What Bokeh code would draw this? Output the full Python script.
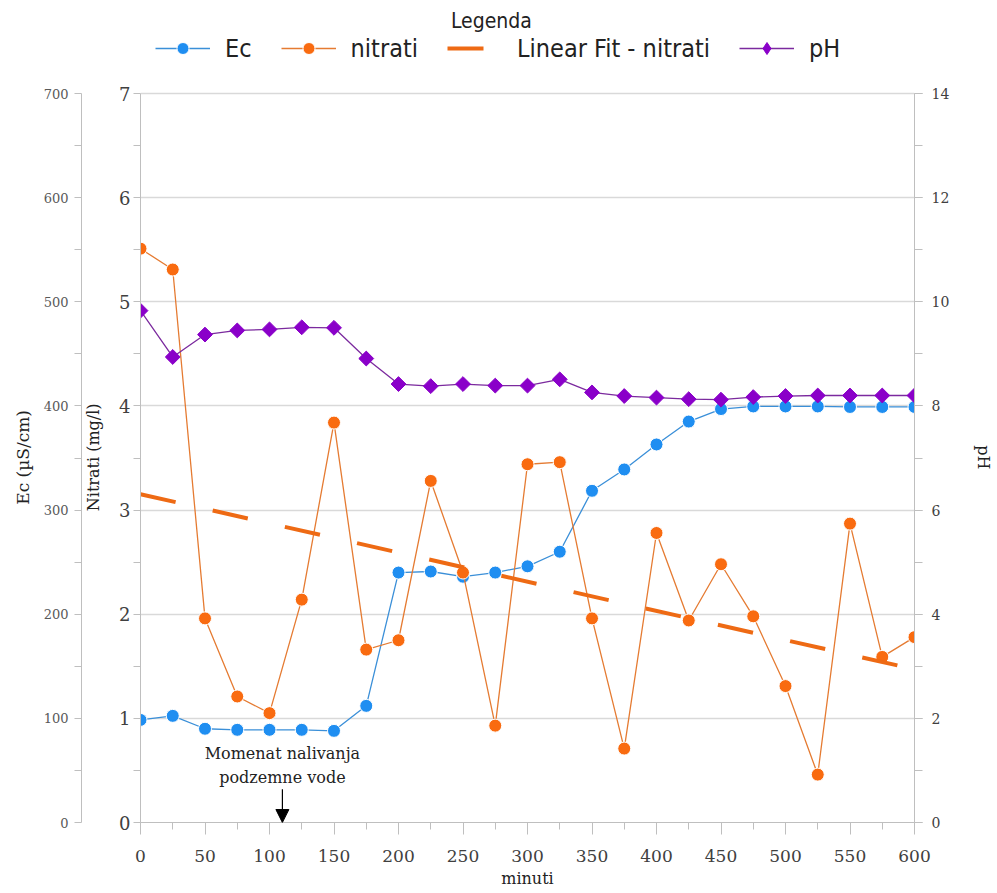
from bokeh.plotting import figure
from bokeh.models import (Range1d, LinearAxis, SingleIntervalTicker, Legend, LegendItem,
                          Arrow, NormalHead, Label)
from bokeh.embed import file_html
from bokeh.resources import INLINE
import numpy as np

minutes = [0, 25, 50, 75, 100, 125, 150, 175, 200, 225, 250, 275, 300,
           325, 350, 375, 400, 425, 450, 475, 500, 525, 550, 575, 600]
ec = [98.5, 102.4, 90, 89, 89, 89, 88, 112, 240, 241, 236, 240, 246,
      260, 318.5, 339, 363, 385, 397, 399.5, 399.5, 399.5, 399, 399, 399]
nitrati = [5.51, 5.31, 1.96, 1.21, 1.05, 2.14, 3.84, 1.66, 1.75, 3.28, 2.40, 0.93, 3.44,
           3.46, 1.96, 0.71, 2.78, 1.94, 2.48, 1.98, 1.31, 0.46, 2.87, 1.59, 1.78]
ph = [9.83, 8.94, 9.37, 9.45, 9.47, 9.51, 9.50, 8.91, 8.42, 8.38, 8.42, 8.39, 8.39,
      8.51, 8.26, 8.19, 8.16, 8.13, 8.12, 8.17, 8.19, 8.20, 8.20, 8.20, 8.20]
series_names = ["Ec", "nitrati", "Linear Fit - nitrati", "pH"]

# axis extents
NI_MAX, EC_MAX, PH_MAX = 7, 700, 14

# linear fit of nitrati
k, b = np.polyfit(minutes, nitrati, 1)
fit_x = [minutes[0], minutes[-1]]
fit_y = [k * x + b for x in fit_x]

SERIF = "DejaVu Serif"
COND = "'Liberation Sans Narrow', 'DejaVu Sans Condensed', sans-serif"
AX = "#bfbfbf"
TXT = "#404040"
EC_C = "#1F8EF1"
EC_L = "#3A8FD8"
NI_C = "#F96B10"
NI_L = "#E57B32"
FIT_C = "#EE6A14"
PH_C = "#8A00C9"
PH_L = "#7B2A9E"
NB = "\u00a0"   # padding keeps axis titles centred on the 0..max part of the axis

W, H = 996, 893
FRAME_TOP_GAP = 93      # px of legend area above the top value
FRAME_BOTTOM = 822
head = FRAME_BOTTOM / (FRAME_BOTTOM - FRAME_TOP_GAP)   # range stretch so legend fits in frame

p = figure(width=W, height=H, x_range=Range1d(0, 600), y_range=Range1d(0, NI_MAX * head),
           output_backend="svg", toolbar_location=None,
           min_border_left=140, min_border_right=W - 918, min_border_top=0,
           min_border_bottom=H - FRAME_BOTTOM)
p.extra_y_ranges = {"ec": Range1d(0, EC_MAX * head), "ph": Range1d(0, PH_MAX * head)}
p.outline_line_color = None
p.background_fill_color = "white"


def style(a, tick_size, label_size="15px"):
    a.axis_line_color = AX
    a.major_tick_line_color = AX
    a.minor_tick_line_color = AX
    a.major_tick_in = 0
    a.minor_tick_in = 0
    a.major_label_text_font = SERIF
    a.major_label_text_font_size = tick_size
    a.major_label_text_color = TXT
    a.axis_label_text_font = SERIF
    a.axis_label_text_font_size = label_size
    a.axis_label_text_font_style = "normal"
    a.axis_label_text_color = "#222222"


# x axis
xa = p.xaxis[0]
xa.ticker = SingleIntervalTicker(interval=50, num_minor_ticks=2)
xa.axis_label = "minuti"
style(xa, "17px", "16px")
xa.major_tick_out = 12
xa.minor_tick_out = 7
xa.major_label_standoff = 15
xa.axis_label_standoff = 4

# nitrati axis (inner left)
ya = p.yaxis[0]
ya.ticker = SingleIntervalTicker(interval=1, num_minor_ticks=2)
ya.bounds = (0, NI_MAX)
ya.axis_label = "Nitrati (mg/l)" + NB * 18
style(ya, "18px", "16px")
ya.major_tick_out = 0
ya.minor_tick_out = 7
ya.major_label_standoff = 3
ya.axis_label_standoff = 13

p.ygrid[0].ticker = SingleIntervalTicker(interval=1)
p.ygrid[0].bounds = (0, 600)
p.ygrid[0].grid_line_color = "#d9d9d9"
p.ygrid[0].grid_line_width = 1.5
p.xgrid.visible = False

# Ec axis (outer left)
ec_axis = LinearAxis(y_range_name="ec", ticker=SingleIntervalTicker(interval=100, num_minor_ticks=2),
                     axis_label="Ec (µS/cm)" + NB * 17, bounds=(0, EC_MAX))
style(ec_axis, "13px", "17px")
ec_axis.major_label_text_color = "#595959"
ec_axis.major_tick_out = 0
ec_axis.minor_tick_out = 7
ec_axis.major_label_standoff = 6
ec_axis.axis_label_standoff = 8
p.add_layout(ec_axis, "left")

# pH axis (right)
ph_axis = LinearAxis(y_range_name="ph", ticker=SingleIntervalTicker(interval=2, num_minor_ticks=2),
                     axis_label=NB * 18 + "pH", bounds=(0, PH_MAX))
style(ph_axis, "14px", "16px")
ph_axis.major_tick_out = 8
ph_axis.minor_tick_out = 8
ph_axis.major_label_standoff = 9
ph_axis.axis_label_standoff = 22
p.add_layout(ph_axis, "right")

ec_line = p.line(minutes, ec, y_range_name="ec", line_color=EC_L, line_width=1.3)
ec_pts = p.scatter(minutes, ec, y_range_name="ec", marker="circle", size=13,
                   fill_color=EC_C, line_color="white", line_width=1)

ni_line = p.line(minutes, nitrati, line_color=NI_L, line_width=1.3)
ni_pts = p.scatter(minutes, nitrati, marker="circle", size=13,
                   fill_color=NI_C, line_color="white", line_width=1)

fit_line = p.line(fit_x, fit_y, line_color=FIT_C, line_width=4, line_dash="36 38")

ph_line = p.line(minutes, ph, y_range_name="ph", line_color=PH_L, line_width=1.3)
ph_pts = p.scatter(minutes, ph, y_range_name="ph", marker="square", angle=np.pi / 4, size=10.5,
                   fill_color=PH_C, line_color=PH_C, line_width=1)
# legend swatch for the diamond marker (no visible point)
ph_key = p.scatter(x=[np.nan], y=[np.nan], marker="diamond", fill_color=PH_C,
                   line_color=PH_C, line_width=1)

legend = Legend(items=[
    LegendItem(label=series_names[0], renderers=[ec_line, ec_pts]),
    LegendItem(label=series_names[1], renderers=[ni_line, ni_pts]),
    LegendItem(label=series_names[2], renderers=[fit_line]),
    LegendItem(label=series_names[3], renderers=[ph_line, ph_key]),
], orientation="horizontal", location=(15, FRAME_BOTTOM - 63))
legend.glyph_width = 55
legend.glyph_height = 30
legend.label_standoff = 15
legend.spacing = 29
legend.padding = 0
legend.margin = 0
legend.border_line_alpha = 0
legend.background_fill_alpha = 0
legend.label_text_font = COND
legend.label_text_font_size = "25px"
legend.label_text_color = "#222222"
p.add_layout(legend, "center")

p.add_layout(Label(x=272, y=7.70, text="Legenda", text_align="center", text_baseline="middle",
                   text_font=COND, text_font_size="21px", text_color="#222222"))

# annotation
ann_x = 110
p.add_layout(Label(x=ann_x, y=0.66, text="Momenat nalivanja", text_align="center",
                   text_baseline="middle", text_font=SERIF, text_font_size="16px",
                   text_color="#222222"))
p.add_layout(Label(x=ann_x, y=0.43, text="podzemne vode", text_align="center",
                   text_baseline="middle", text_font=SERIF, text_font_size="16px",
                   text_color="#222222"))
p.add_layout(Arrow(end=NormalHead(size=13, fill_color="black", line_color="black"),
                   x_start=ann_x, y_start=0.32, x_end=ann_x, y_end=0.0,
                   line_color="black", line_width=1.2))

open("out.html", "w").write(file_html(p, INLINE))
